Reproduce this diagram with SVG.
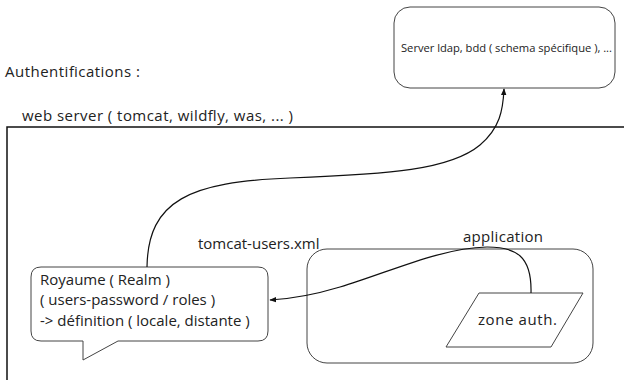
<svg xmlns="http://www.w3.org/2000/svg" width="624" height="380" viewBox="0 0 624 380">
<style>
text{font-family:"Open Sans","Noto Sans","DejaVu Sans",sans-serif;fill:#222;}
.t{font-size:15px;}
.box{fill:#fff;stroke:#444;stroke-width:1;}
.conn{fill:none;stroke:#111;stroke-width:1.2;}
</style>
<defs>
<marker id="arr" viewBox="0 0 10 10" refX="9" refY="5" markerWidth="7" markerHeight="7" orient="auto" markerUnits="userSpaceOnUse">
<path d="M0,1 L10,5 L0,9 z" fill="#111"/>
</marker>
</defs>
<rect width="624" height="380" fill="#fff"/>
<text class="t" x="5" y="77" font-size="16.5" textLength="135" lengthAdjust="spacing">Authentifications :</text>
<g id="webserver">
<text class="t" x="22" y="121" font-size="16.5" textLength="271" lengthAdjust="spacing">web server ( tomcat, wildfly, was, ... )</text>
<rect x="7" y="127" width="640" height="280" fill="none" stroke="#111" stroke-width="1.5"/>
</g>
<g id="server">
<rect class="box" x="394" y="7" width="221" height="81" rx="16"/>
<text x="401" y="52" font-size="11.2" textLength="211" lengthAdjust="spacing">Server ldap, bdd ( schema spécifique ), ...</text>
</g>
<g id="application">
<rect class="box" x="307" y="249" width="286" height="114" rx="20"/>
<text class="t" x="463" y="242" font-size="16" textLength="80" lengthAdjust="spacing">application</text>
</g>
<g id="zone">
<polygon class="box" points="479,293 583,293 551,347 446,347"/>
<text class="t" x="478" y="325" font-size="16.5" textLength="79" lengthAdjust="spacing">zone auth.</text>
</g>
<g id="realm">
<path class="box" d="M41,267 H258 Q268,267 268,277 V331 Q268,341 258,341 H118 L83,360 V341 H41 Q31,341 31,331 V277 Q31,267 41,267 Z"/>
<text class="t" x="40" y="285">Royaume ( Realm )</text>
<text class="t" x="40" y="305">( users-password / roles )</text>
<text class="t" x="40" y="326">-&gt; définition ( locale, distante )</text>
</g>
<text class="t" x="198" y="249">tomcat-users.xml</text>
<g id="connectors">
<path class="conn" marker-end="url(#arr)" d="M531,293 C532,255 515,247 487,247 C440,248 390,272 340,287 C310,296 290,299 270,300"/>
<path class="conn" marker-end="url(#arr)" d="M147,267 C148,200 190,182 290,178 C390,174 450,170 480,145 C500,128 503,110 504,89"/>
</g>
</svg>
